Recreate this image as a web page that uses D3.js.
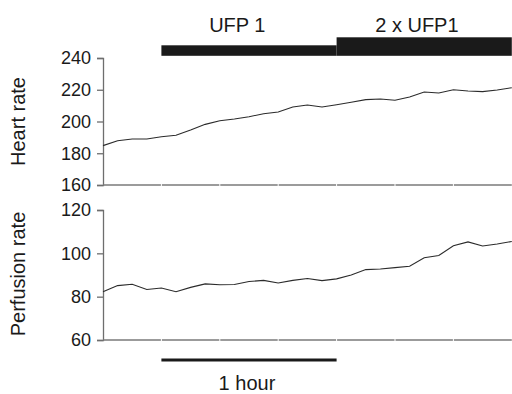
<!DOCTYPE html>
<html>
<head>
<meta charset="utf-8">
<script src="https://cdn.jsdelivr.net/npm/d3@7"></script>
<style>
  html, body { margin: 0; padding: 0; background: #fff; }
  svg { display: block; }
  text { font-family: "Liberation Sans", Arial, sans-serif; fill: #1a1a1a; }
</style>
</head>
<body>
<svg id="chart" width="512" height="394"></svg>
<script>
// Sample times in minutes (one reading every 5 min)
const minutes = [0, 5, 10, 15, 20, 25, 30, 35, 40, 45, 50, 55, 60, 65, 70,
                 75, 80, 85, 90, 95, 100, 105, 110, 115, 120, 125, 130, 135, 140];

// Heart rate (beats/min)
const heartRate = [184.8, 187.9, 189.0, 189.0, 190.4, 191.3, 194.6, 198.2, 200.5, 201.6,
                   203.0, 204.9, 206.0, 209.1, 210.4, 209.1, 210.6, 212.1, 213.8, 214.2,
                   213.4, 215.4, 218.6, 218.0, 220.0, 219.2, 218.8, 219.8, 221.3];

// Perfusion rate
const perfusionRate = [82.3, 85.1, 85.7, 83.3, 84.0, 82.3, 84.3, 85.9, 85.5, 85.6,
                       87.0, 87.5, 86.3, 87.5, 88.4, 87.4, 88.2, 90.0, 92.5, 92.8,
                       93.4, 94.0, 98.0, 99.0, 103.5, 105.3, 103.4, 104.3, 105.5];

// Tick labels for the two y axes
const heartTicks = [160, 180, 200, 220, 240];
const perfusionTicks = [60, 80, 100, 120];

// Category boundaries along the time axis (every 20 min)
const gridMinutes = [0, 20, 40, 60, 80, 100, 120, 140];

// Treatment periods shown above the top panel
const treatmentLabels = ["UFP 1", "2 x UFP1"];
const treatmentStart = [20, 80];
const treatmentEnd = [80, 140];

// Scale bar for one hour
const scaleBarLabel = "1 hour";
const scaleBarStart = 20;
const scaleBarEnd = 80;

const svg = d3.select("#chart");

const x = d3.scaleLinear().domain([0, 140]).range([103, 511.8]);
const yHeart = d3.scaleLinear().domain([160, 240]).range([185, 58]);
const yPerf = d3.scaleLinear().domain([60, 120]).range([340, 210]);

function panel(yScale, ticks, values, title, titleY) {
  const g = svg.append("g");
  const [y0] = yScale.range();

  // y axis
  const axis = d3.axisLeft(yScale).tickValues(ticks).tickSize(6).tickPadding(6).tickFormat(d3.format("d"));
  const ag = g.append("g").attr("transform", "translate(103,0)").call(axis);
  ag.select(".domain").attr("stroke", "#6e6e6e").attr("stroke-width", 1.3);
  ag.selectAll(".tick line").attr("stroke", "#6e6e6e").attr("stroke-width", 1.3);
  ag.selectAll(".tick text").attr("font-size", 18).attr("fill", "#1a1a1a")
    .style("font-family", "'Liberation Sans', Arial, sans-serif");

  // x axis line with white tick gaps at category boundaries
  g.append("line")
    .attr("x1", x(0)).attr("x2", x(140))
    .attr("y1", y0).attr("y2", y0)
    .attr("stroke", "#7a7a7a").attr("stroke-width", 1.5);
  g.selectAll(".gap").data(gridMinutes.slice(1, -1)).join("line")
    .attr("x1", d => x(d)).attr("x2", d => x(d))
    .attr("y1", y0 - 1).attr("y2", y0 + 1)
    .attr("stroke", "#fff").attr("stroke-width", 1);

  // data line
  const line = d3.line().x((d, i) => x(minutes[i])).y(d => yScale(d));
  g.append("path").datum(values)
    .attr("d", line)
    .attr("fill", "none")
    .attr("stroke", "#2b2b2b")
    .attr("stroke-width", 1.1);

  // axis title
  g.append("text")
    .attr("transform", `translate(25,${titleY}) rotate(-90)`)
    .attr("text-anchor", "middle")
    .attr("font-size", 20)
    .text(title);
}

panel(yHeart, heartTicks, heartRate, "Heart rate", 121.5);
panel(yPerf, perfusionTicks, perfusionRate, "Perfusion rate", 274);

// treatment bars: first dose thin, doubled dose thick
const barTop = [45.3, 37.3];
svg.selectAll(".treat").data(treatmentLabels).join("rect")
  .attr("x", (d, i) => x(treatmentStart[i]))
  .attr("width", (d, i) => x(treatmentEnd[i]) - x(treatmentStart[i]))
  .attr("y", (d, i) => barTop[i])
  .attr("height", (d, i) => 55.8 - barTop[i])
  .attr("fill", "#1a1a1a");

const labelMinute = [46, 107.5];
svg.selectAll(".treatLabel").data(treatmentLabels).join("text")
  .attr("x", (d, i) => x(labelMinute[i]))
  .attr("y", 32)
  .attr("text-anchor", "middle")
  .attr("font-size", 20)
  .text(d => d);

// one-hour scale bar
svg.append("line")
  .attr("x1", x(scaleBarStart)).attr("x2", x(scaleBarEnd))
  .attr("y1", 360).attr("y2", 360)
  .attr("stroke", "#1a1a1a").attr("stroke-width", 3);
svg.append("text")
  .attr("x", x(49.3)).attr("y", 390)
  .attr("text-anchor", "middle")
  .attr("font-size", 20)
  .text(scaleBarLabel);
</script>
</body>
</html>
